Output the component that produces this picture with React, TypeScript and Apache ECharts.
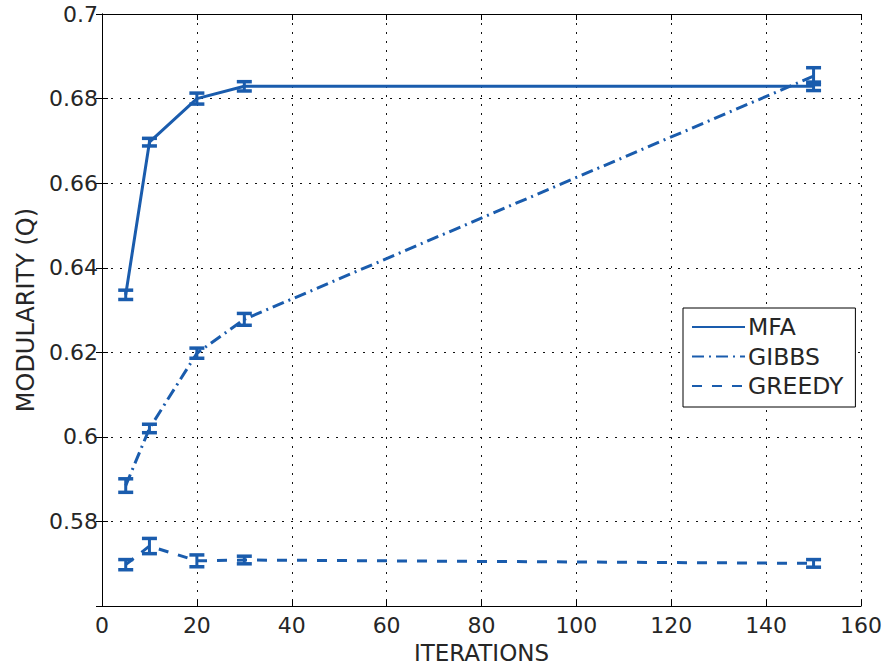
import React, { useEffect, useRef } from "react";
import * as echarts from "echarts";

const iterations = [5, 10, 20, 30, 150];
const mfa = [0.6336, 0.6697, 0.68, 0.6829, 0.6829];
const mfaErr = [0.0011, 0.0009, 0.0013, 0.0011, 0.001];
const gibbs = [0.5885, 0.602, 0.6198, 0.6278, 0.6853];
const gibbsErr = [0.0016, 0.001, 0.0012, 0.0014, 0.002];
const greedy = [0.5698, 0.5742, 0.5707, 0.5709, 0.5701];
const greedyErr = [0.0012, 0.0018, 0.0014, 0.0009, 0.0009];

const seriesNames = ["MFA", "GIBBS", "GREEDY"];
const xTicks = { min: 0, max: 160, interval: 20 };
const yTicks = { min: 0.56, max: 0.7, interval: 0.02 };

const COLOR = "#1a5cad";
const TEXT = "#262626";
const FONT = "DejaVu Sans";

function errorSeries(vals: number[], errs: number[]) {
  return {
    type: "custom",
    xAxisIndex: 0,
    yAxisIndex: 0,
    silent: true,
    z: 5,
    data: iterations.map((x, i) => [x, vals[i], errs[i]]),
    renderItem: (params: any, api: any) => {
      const x = api.value(0);
      const y = api.value(1);
      const e = api.value(2);
      const top = api.coord([x, y + e]);
      const bot = api.coord([x, y - e]);
      const hw = 7.5;
      const style = { stroke: COLOR, lineWidth: 3 };
      const capStyle = { stroke: COLOR, lineWidth: 3.5 };
      return {
        type: "group",
        children: [
          { type: "line", shape: { x1: top[0], y1: top[1], x2: bot[0], y2: bot[1] }, style },
          { type: "line", shape: { x1: top[0] - hw, y1: top[1], x2: top[0] + hw, y2: top[1] }, style: capStyle },
          { type: "line", shape: { x1: bot[0] - hw, y1: bot[1], x2: bot[0] + hw, y2: bot[1] }, style: capStyle },
        ],
      };
    },
  };
}

export default function App() {
  const ref = useRef<HTMLDivElement>(null);
  useEffect(() => {
    if (!ref.current) return;
    const chart = echarts.init(ref.current, null, { renderer: "svg" });
    const axisLine = { show: true, lineStyle: { color: "#000", width: 1 } };
    const axisTick = { show: true, inside: true, length: 6, lineStyle: { color: "#000", width: 1 } };
    const splitLine = { show: true, lineStyle: { color: "#111", width: 1, type: [2, 7] } };
    chart.setOption({
      animation: false,
      backgroundColor: "#fff",
      textStyle: { fontFamily: FONT },
      grid: { left: 102, right: 25, top: 14, bottom: 57, containLabel: false },
      legend: {
        data: seriesNames,
        orient: "vertical",
        left: 683,
        top: 308,
        padding: [7, 12, 9, 8],
        itemGap: 5.5,
        itemWidth: 53,
        itemHeight: 14,
        borderColor: "#000",
        borderWidth: 1,
        borderRadius: 0,
        backgroundColor: "#fff",
        itemStyle: { opacity: 0 },
        textStyle: { fontFamily: FONT, fontSize: 23.5, color: TEXT, lineHeight: 22, padding: [0, 0, 0, -2] },
      },
      xAxis: [
        {
          type: "value",
          ...xTicks,
          position: "bottom",
          axisLine,
          axisTick,
          splitLine,
          axisLabel: { fontFamily: FONT, fontSize: 22, color: TEXT, margin: 8 },
          name: "ITERATIONS",
          nameLocation: "middle",
          nameGap: 34,
          nameTextStyle: { fontFamily: FONT, fontSize: 23, color: TEXT },
        },
        {
          type: "value",
          ...xTicks,
          position: "top",
          axisLine,
          axisTick,
          splitLine: { show: false },
          axisLabel: { show: false },
        },
      ],
      yAxis: [
        {
          type: "value",
          ...yTicks,
          position: "left",
          axisLine,
          axisTick,
          splitLine,
          axisLabel: {
            fontFamily: FONT,
            fontSize: 22,
            color: TEXT,
            margin: 4,
            showMinLabel: false,
            formatter: (v: number) => String(parseFloat(v.toFixed(2))),
          },
          name: "MODULARITY (Q)",
          nameLocation: "middle",
          nameGap: 59,
          nameTextStyle: { fontFamily: FONT, fontSize: 24, color: TEXT },
        },
        {
          type: "value",
          ...yTicks,
          position: "right",
          axisLine,
          axisTick,
          splitLine: { show: false },
          axisLabel: { show: false },
        },
      ],
      series: [
        {
          name: "MFA",
          type: "line",
          data: iterations.map((x, i) => [x, mfa[i]]),
          symbol: "none",
          lineStyle: { color: COLOR, width: 3, type: "solid" },
          itemStyle: { color: COLOR },
          z: 4,
        },
        {
          name: "GIBBS",
          type: "line",
          data: iterations.map((x, i) => [x, gibbs[i]]),
          symbol: "none",
          lineStyle: { color: COLOR, width: 3, type: [12, 5, 2, 5] },
          itemStyle: { color: COLOR },
          z: 4,
        },
        {
          name: "GREEDY",
          type: "line",
          data: iterations.map((x, i) => [x, greedy[i]]),
          symbol: "none",
          lineStyle: { color: COLOR, width: 3, type: [10, 10] },
          itemStyle: { color: COLOR },
          z: 4,
        },
        errorSeries(mfa, mfaErr),
        errorSeries(gibbs, gibbsErr),
        errorSeries(greedy, greedyErr),
      ],
    });
    return () => chart.dispose();
  }, []);
  return (
    <div
      ref={ref}
      style={{ position: "fixed", left: 0, top: 0, width: 886, height: 669, background: "#fff" }}
    />
  );
}
